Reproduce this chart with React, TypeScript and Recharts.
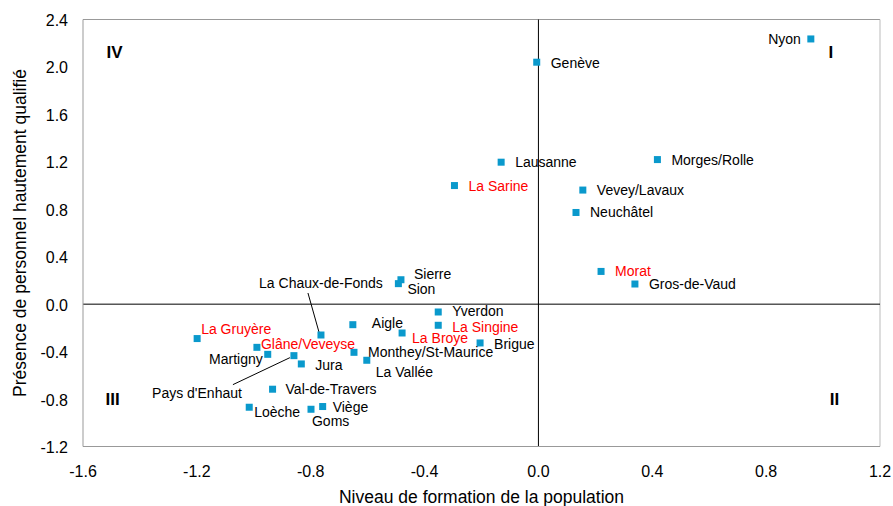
import React from 'react';
import { ScatterChart, Scatter, XAxis, YAxis, ReferenceLine } from 'recharts';

// districts, x = niveau de formation, y = personnel hautement qualifié
const districts = [
  'Nyon', 'Genève', 'Lausanne', 'Morges/Rolle', 'La Sarine', 'Vevey/Lavaux', 'Neuchâtel',
  'Morat', 'Gros-de-Vaud', 'Sierre', 'Sion', 'Yverdon', 'La Singine', 'La Broye', 'Brigue',
  'Aigle', 'Monthey/St-Maurice', 'La Vallée', 'La Chaux-de-Fonds', 'La Gruyère',
  'Glâne/Veveyse', 'Martigny', "Pays d'Enhaut", 'Jura', 'Val-de-Travers', 'Loèche', 'Goms', 'Viège',
];
const formation = [
  0.957, -0.006, -0.131, 0.418, -0.295, 0.156, 0.132,
  0.22, 0.339, -0.483, -0.492, -0.352, -0.352, -0.479, -0.205,
  -0.652, -0.648, -0.603, -0.764, -1.199,
  -0.989, -0.951, -0.859, -0.833, -0.934, -1.016, -0.799, -0.758,
];
const qualified = [
  2.236, 2.04, 1.197, 1.219, 1.0, 0.962, 0.773,
  0.276, 0.17, 0.206, 0.173, -0.066, -0.178, -0.243, -0.327,
  -0.173, -0.406, -0.473, -0.26, -0.29,
  -0.364, -0.423, -0.434, -0.504, -0.717, -0.869, -0.886, -0.863,
];
// districts fribourgeois, en rouge
const fribourgDistricts = ['La Sarine', 'Morat', 'La Singine', 'La Broye', 'La Gruyère', 'Glâne/Veveyse'];

const xTicks = [-1.6, -1.2, -0.8, -0.4, 0, 0.4, 0.8, 1.2];
const yTicks = [-1.2, -0.8, -0.4, 0, 0.4, 0.8, 1.2, 1.6, 2.0, 2.4];

const quadrantNames = ['IV', 'I', 'III', 'II'];
const quadrantX = [-1.489, 1.027, -1.496, 1.04];
const quadrantY = [2.125, 2.125, -0.8, -0.8];

const FONT = '"Liberation Sans", Arial, sans-serif';
const MARK = '#0a99cc';

type Placement = { dx: number; dy: number; anchor?: 'start' | 'middle' | 'end'; leader?: [number, number, number, number] };
const defaultPlacement: Placement = { dx: 14, dy: 0, anchor: 'start' };
const labelPlacement: Record<string, Partial<Placement>> = {
  Nyon: { dx: -10, anchor: 'end' },
  'Genève': { dy: 1 },
  Sierre: { dx: 13, dy: -6 },
  Sion: { dx: 9, dy: 5 },
  Yverdon: { dy: -1 },
  'La Singine': { dy: 2 },
  'La Broye': { dx: 10, dy: 5 },
  Brigue: { dy: 1 },
  Aigle: { dx: 19, dy: -2 },
  'La Vallée': { dx: 9, dy: 12 },
  'La Gruyère': { dx: 4, dy: -10 },
  'Glâne/Veveyse': { dx: 4, dy: -3 },
  Martigny: { dx: -5, dy: 5, anchor: 'end' },
  "Pays d'Enhaut": { dx: -52, dy: 37, anchor: 'end', leader: [-4, 2, -61, 29] },
  Jura: { dy: 1 },
  'La Chaux-de-Fonds': { dx: 0, dy: -52, anchor: 'middle', leader: [-2, -3, -13, -42] },
  'Val-de-Travers': { dx: 13 },
  'Loèche': { dx: 5, dy: 5 },
  Goms: { dx: 1, dy: 12 },
  'Viège': { dx: 10 },
};

const points = districts.map((name, i) => ({ name, x: formation[i], y: qualified[i] }));
const quadrants = quadrantNames.map((name, i) => ({ name, x: quadrantX[i], y: quadrantY[i] }));

function DistrictMark(props: any) {
  const { cx, cy, payload } = props;
  const p = { ...defaultPlacement, ...labelPlacement[payload.name] };
  const red = fribourgDistricts.includes(payload.name);
  return (
    <g>
      {p.leader && (
        <line
          x1={cx + p.leader[0]}
          y1={cy + p.leader[1]}
          x2={cx + p.leader[2]}
          y2={cy + p.leader[3]}
          stroke="#000"
          strokeWidth={1}
        />
      )}
      <rect x={cx - 3.5} y={cy - 3.5} width={7} height={7} fill={MARK} />
      <text
        x={cx + p.dx}
        y={cy + p.dy}
        textAnchor={p.anchor}
        dominantBaseline="central"
        fontSize={14}
        fontFamily={FONT}
        fill={red ? '#ff0000' : '#000'}
      >
        {payload.name}
      </text>
    </g>
  );
}

function QuadrantLabel(props: any) {
  const { cx, cy, payload } = props;
  return (
    <text x={cx} y={cy} textAnchor="middle" dominantBaseline="central" fontSize={17} fontWeight="bold" fontFamily={FONT} fill="#000">
      {payload.name}
    </text>
  );
}

function XTick(props: any) {
  const { x, y, payload } = props;
  return (
    <text x={x} y={y + 25} textAnchor="middle" dominantBaseline="central" fontSize={16} fontFamily={FONT} fill="#000">
      {payload.value.toFixed(1)}
    </text>
  );
}

function YTick(props: any) {
  const { x, y, payload } = props;
  return (
    <text x={x - 15} y={y + 1} textAnchor="end" dominantBaseline="central" fontSize={16} fontFamily={FONT} fill="#000">
      {payload.value.toFixed(1)}
    </text>
  );
}

function YTitle(props: any) {
  const { viewBox } = props;
  const cx = 20;
  const cy = viewBox.y + viewBox.height / 2;
  return (
    <text
      x={cx}
      y={cy}
      transform={`rotate(-90, ${cx}, ${cy})`}
      textAnchor="middle"
      dominantBaseline="central"
      fontSize={17.5}
      fontFamily={FONT}
      fill="#000"
    >
      Présence de personnel hautement qualifié
    </text>
  );
}

function XTitle(props: any) {
  const { viewBox } = props;
  return (
    <text
      x={viewBox.x + viewBox.width / 2}
      y={497}
      textAnchor="middle"
      dominantBaseline="central"
      fontSize={17.5}
      fontFamily={FONT}
      fill="#000"
    >
      Niveau de formation de la population
    </text>
  );
}

export default function App() {
  return (
    <div style={{ position: 'absolute', left: 0, top: 0, background: '#fff' }}>
      <ScatterChart width={893} height={506} margin={{ top: 19.5, right: 13, bottom: 0, left: 0 }}>
        <XAxis
          type="number"
          dataKey="x"
          domain={[-1.6, 1.2]}
          ticks={xTicks}
          allowDataOverflow
          height={59.5}
          tickLine={false}
          tickSize={0}
          tickMargin={0}
          axisLine={{ stroke: '#999' }}
          tick={<XTick />}
          label={<XTitle />}
        />
        <YAxis
          type="number"
          dataKey="y"
          domain={[-1.2, 2.4]}
          ticks={yTicks}
          allowDataOverflow
          width={83}
          tickLine={false}
          tickSize={0}
          tickMargin={0}
          axisLine={{ stroke: '#999' }}
          tick={<YTick />}
          label={<YTitle />}
        />
        <ReferenceLine y={2.4} stroke="#999" />
        <ReferenceLine x={1.2} stroke="#bbb" />
        <ReferenceLine x={0} stroke="#000" />
        <ReferenceLine y={0} stroke="#000" />
        <Scatter data={quadrants} shape={<QuadrantLabel />} isAnimationActive={false} />
        <Scatter data={points} shape={<DistrictMark />} isAnimationActive={false} />
      </ScatterChart>
    </div>
  );
}
